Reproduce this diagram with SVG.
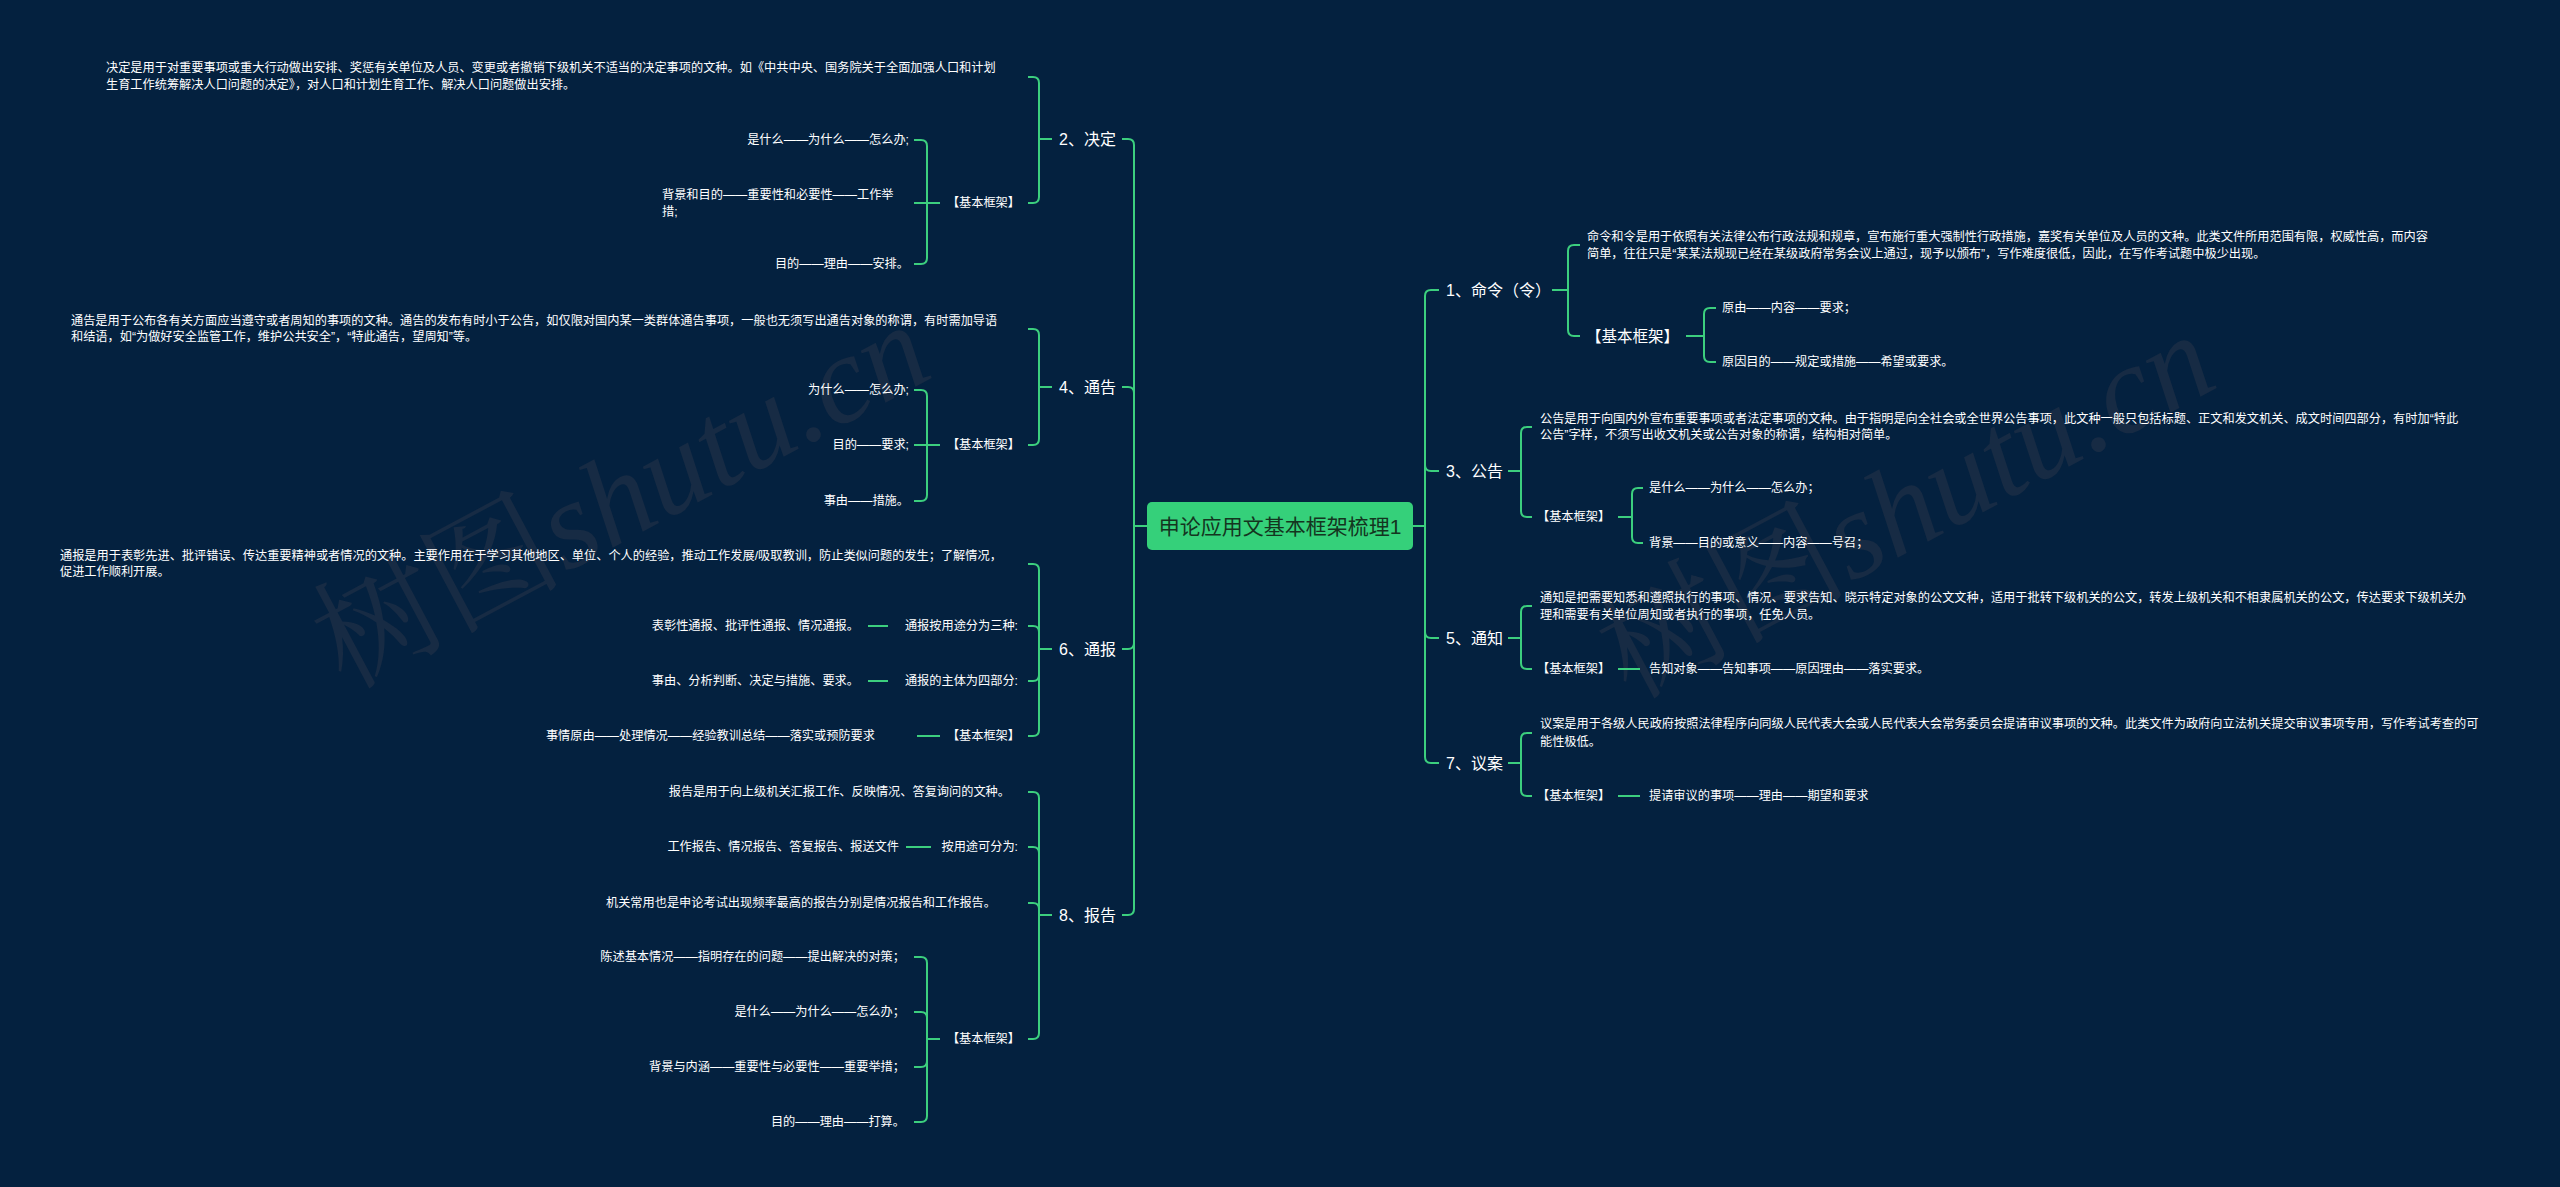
<svg xmlns="http://www.w3.org/2000/svg" width="2560" height="1187" viewBox="0 0 2560 1187">
<style>
text{font-family:"Liberation Sans","Noto Sans CJK SC",sans-serif;fill:#ffffff;dominant-baseline:central}
.l1{font-size:16px}
.t{font-size:12.2px}
.kb{font-size:15.5px}
.e{text-anchor:end}
.root{font-size:21px;fill:#14351f}
.c{fill:none;stroke:#3ccf7e;stroke-width:2}
.wm{font-family:"Liberation Serif","Noto Serif CJK SC","Noto Sans CJK SC",serif;font-size:125px;fill:#172b44;dominant-baseline:auto}
</style>
<rect width="2560" height="1187" fill="#04213f"/>
<text class="wm" transform="translate(345,690) rotate(-28)">树图<tspan font-style="italic">shutu.cn</tspan></text>
<text class="wm" transform="translate(1630,700) rotate(-28)">树图<tspan font-style="italic">shutu.cn</tspan></text>
<g id="connectors">
<path class="c" d="M1413,526 H1425 M1425,526 V296 Q1425,290 1431,290 H1439 M1425,526 V465 Q1425,471 1431,471 H1439 M1425,526 V632 Q1425,638 1431,638 H1439 M1425,526 V757 Q1425,763 1431,763 H1439"/>
<path class="c" d="M1147,526 H1134 M1134,526 V145 Q1134,139 1128,139 H1122 M1134,526 V393 Q1134,387 1128,387 H1122 M1134,526 V643 Q1134,649 1128,649 H1122 M1134,526 V909 Q1134,915 1128,915 H1122"/>
<path class="c" d="M1552,290 H1568 M1568,290 V251 Q1568,245 1574,245 H1580 M1568,290 V330 Q1568,336 1574,336 H1580"/>
<path class="c" d="M1686,336 H1704 M1704,336 V314 Q1704,308 1710,308 H1716 M1704,336 V356 Q1704,362 1710,362 H1716"/>
<path class="c" d="M1508,471 H1521 M1521,471 V433 Q1521,427 1527,427 H1532 M1521,471 V511 Q1521,517 1527,517 H1532"/>
<path class="c" d="M1618,517 H1632 M1632,517 V494 Q1632,488 1638,488 H1643 M1632,517 V537 Q1632,543 1638,543 H1643"/>
<path class="c" d="M1508,638 H1521 M1521,638 V612 Q1521,606 1527,606 H1532 M1521,638 V663 Q1521,669 1527,669 H1532 M1618,669 H1640"/>
<path class="c" d="M1508,763 H1521 M1521,763 V739 Q1521,733 1527,733 H1532 M1521,763 V790 Q1521,796 1527,796 H1532 M1618,796 H1640"/>
<path class="c" d="M1052,139 H1039 M1039,139 V83 Q1039,77 1033,77 H1028 M1039,139 V197 Q1039,203 1033,203 H1028"/>
<path class="c" d="M940,203 H927 M927,203 V146 Q927,140 921,140 H914 M927,203 H914 M927,203 V258 Q927,264 921,264 H914"/>
<path class="c" d="M1052,387 H1039 M1039,387 V335 Q1039,329 1033,329 H1028 M1039,387 V439 Q1039,445 1033,445 H1028"/>
<path class="c" d="M940,445 H927 M927,445 V396 Q927,390 921,390 H914 M927,445 H914 M927,445 V495 Q927,501 921,501 H914"/>
<path class="c" d="M1052,649 H1039 M1039,649 V570 Q1039,564 1033,564 H1028 M1039,649 V632 Q1039,626 1033,626 H1028 M1039,649 V675 Q1039,681 1033,681 H1028 M1039,649 V730 Q1039,736 1033,736 H1028 M888,626 H868 M888,681 H868 M940,736 H917"/>
<path class="c" d="M1052,915 H1039 M1039,915 V798 Q1039,792 1033,792 H1028 M1039,915 V853 Q1039,847 1033,847 H1028 M1039,915 V909 Q1039,903 1033,903 H1028 M1039,915 V1033 Q1039,1039 1033,1039 H1028 M931,847 H906"/>
<path class="c" d="M940,1039 H927 M927,1039 V963 Q927,957 921,957 H914 M927,1039 V1018 Q927,1012 921,1012 H914 M927,1039 V1061 Q927,1067 921,1067 H914 M927,1039 V1116 Q927,1122 921,1122 H914"/>
</g>
<g id="root">
<rect x="1147" y="502" width="266" height="48" rx="5" fill="#35d07a"/>
<text class="root" x="1280" y="526" text-anchor="middle">申论应用文基本框架梳理1</text>
</g>
<g id="n1">
<text class="l1" x="1446" y="290">1、命令（令）</text>
<text class="t" x="1587" y="237">命令和令是用于依照有关法律公布行政法规和规章，宣布施行重大强制性行政措施，嘉奖有关单位及人员的文种。此类文件所用范围有限，权威性高，而内容</text>
<text class="t" x="1587" y="254">简单，往往只是“某某法规现已经在某级政府常务会议上通过，现予以颁布”，写作难度很低，因此，在写作考试题中极少出现。</text>
<text class="kb" x="1586" y="336">【基本框架】</text>
<text class="t" x="1722" y="308">原由——内容——要求；</text>
<text class="t" x="1722" y="362">原因目的——规定或措施——希望或要求。</text>
</g>
<g id="n3">
<text class="l1" x="1446" y="471">3、公告</text>
<text class="t" x="1540" y="419">公告是用于向国内外宣布重要事项或者法定事项的文种。由于指明是向全社会或全世界公告事项，此文种一般只包括标题、正文和发文机关、成文时间四部分，有时加“特此</text>
<text class="t" x="1540" y="435">公告”字样，不须写出收文机关或公告对象的称谓，结构相对简单。</text>
<text class="t" x="1537" y="517">【基本框架】</text>
<text class="t" x="1649" y="488">是什么——为什么——怎么办；</text>
<text class="t" x="1649" y="543">背景——目的或意义——内容——号召；</text>
</g>
<g id="n5">
<text class="l1" x="1446" y="638">5、通知</text>
<text class="t" x="1540" y="598">通知是把需要知悉和遵照执行的事项、情况、要求告知、晓示特定对象的公文文种，适用于批转下级机关的公文，转发上级机关和不相隶属机关的公文，传达要求下级机关办</text>
<text class="t" x="1540" y="615">理和需要有关单位周知或者执行的事项，任免人员。</text>
<text class="t" x="1537" y="669">【基本框架】</text>
<text class="t" x="1649" y="669">告知对象——告知事项——原因理由——落实要求。</text>
</g>
<g id="n7">
<text class="l1" x="1446" y="763">7、议案</text>
<text class="t" x="1540" y="724">议案是用于各级人民政府按照法律程序向同级人民代表大会或人民代表大会常务委员会提请审议事项的文种。此类文件为政府向立法机关提交审议事项专用，写作考试考查的可</text>
<text class="t" x="1540" y="742">能性极低。</text>
<text class="t" x="1537" y="796">【基本框架】</text>
<text class="t" x="1649" y="796">提请审议的事项——理由——期望和要求</text>
</g>
<g id="n2">
<text class="l1 e" x="1116" y="139">2、决定</text>
<text class="t" x="106" y="68">决定是用于对重要事项或重大行动做出安排、奖惩有关单位及人员、变更或者撤销下级机关不适当的决定事项的文种。如《中共中央、国务院关于全面加强人口和计划</text>
<text class="t" x="106" y="85">生育工作统筹解决人口问题的决定》，对人口和计划生育工作、解决人口问题做出安排。</text>
<text class="t e" x="1020" y="203">【基本框架】</text>
<text class="t e" x="909" y="140">是什么——为什么——怎么办;</text>
<text class="t" x="662" y="195">背景和目的——重要性和必要性——工作举</text>
<text class="t" x="662" y="212">措;</text>
<text class="t e" x="909" y="264">目的——理由——安排。</text>
</g>
<g id="n4">
<text class="l1 e" x="1116" y="387">4、通告</text>
<text class="t" x="71" y="321">通告是用于公布各有关方面应当遵守或者周知的事项的文种。通告的发布有时小于公告，如仅限对国内某一类群体通告事项，一般也无须写出通告对象的称谓，有时需加导语</text>
<text class="t" x="71" y="337">和结语，如“为做好安全监管工作，维护公共安全”，“特此通告，望周知”等。</text>
<text class="t e" x="1020" y="445">【基本框架】</text>
<text class="t e" x="909" y="390">为什么——怎么办;</text>
<text class="t e" x="909" y="445">目的——要求;</text>
<text class="t e" x="909" y="501">事由——措施。</text>
</g>
<g id="n6">
<text class="l1 e" x="1116" y="649">6、通报</text>
<text class="t" x="60" y="556">通报是用于表彰先进、批评错误、传达重要精神或者情况的文种。主要作用在于学习其他地区、单位、个人的经验，推动工作发展/吸取教训，防止类似问题的发生；了解情况，</text>
<text class="t" x="60" y="572">促进工作顺利开展。</text>
<text class="t e" x="1018" y="626">通报按用途分为三种:</text>
<text class="t e" x="859" y="626">表彰性通报、批评性通报、情况通报。</text>
<text class="t e" x="1018" y="681">通报的主体为四部分:</text>
<text class="t e" x="859" y="681">事由、分析判断、决定与措施、要求。</text>
<text class="t e" x="1020" y="736">【基本框架】</text>
<text class="t e" x="875" y="736">事情原由——处理情况——经验教训总结——落实或预防要求</text>
</g>
<g id="n8">
<text class="l1 e" x="1116" y="915">8、报告</text>
<text class="t e" x="1010" y="792">报告是用于向上级机关汇报工作、反映情况、答复询问的文种。</text>
<text class="t e" x="1018" y="847">按用途可分为:</text>
<text class="t e" x="899" y="847">工作报告、情况报告、答复报告、报送文件</text>
<text class="t e" x="996" y="903">机关常用也是申论考试出现频率最高的报告分别是情况报告和工作报告。</text>
<text class="t e" x="1020" y="1039">【基本框架】</text>
<text class="t e" x="905" y="957">陈述基本情况——指明存在的问题——提出解决的对策；</text>
<text class="t e" x="905" y="1012">是什么——为什么——怎么办；</text>
<text class="t e" x="905" y="1067">背景与内涵——重要性与必要性——重要举措；</text>
<text class="t e" x="905" y="1122">目的——理由——打算。</text>
</g>
</svg>
